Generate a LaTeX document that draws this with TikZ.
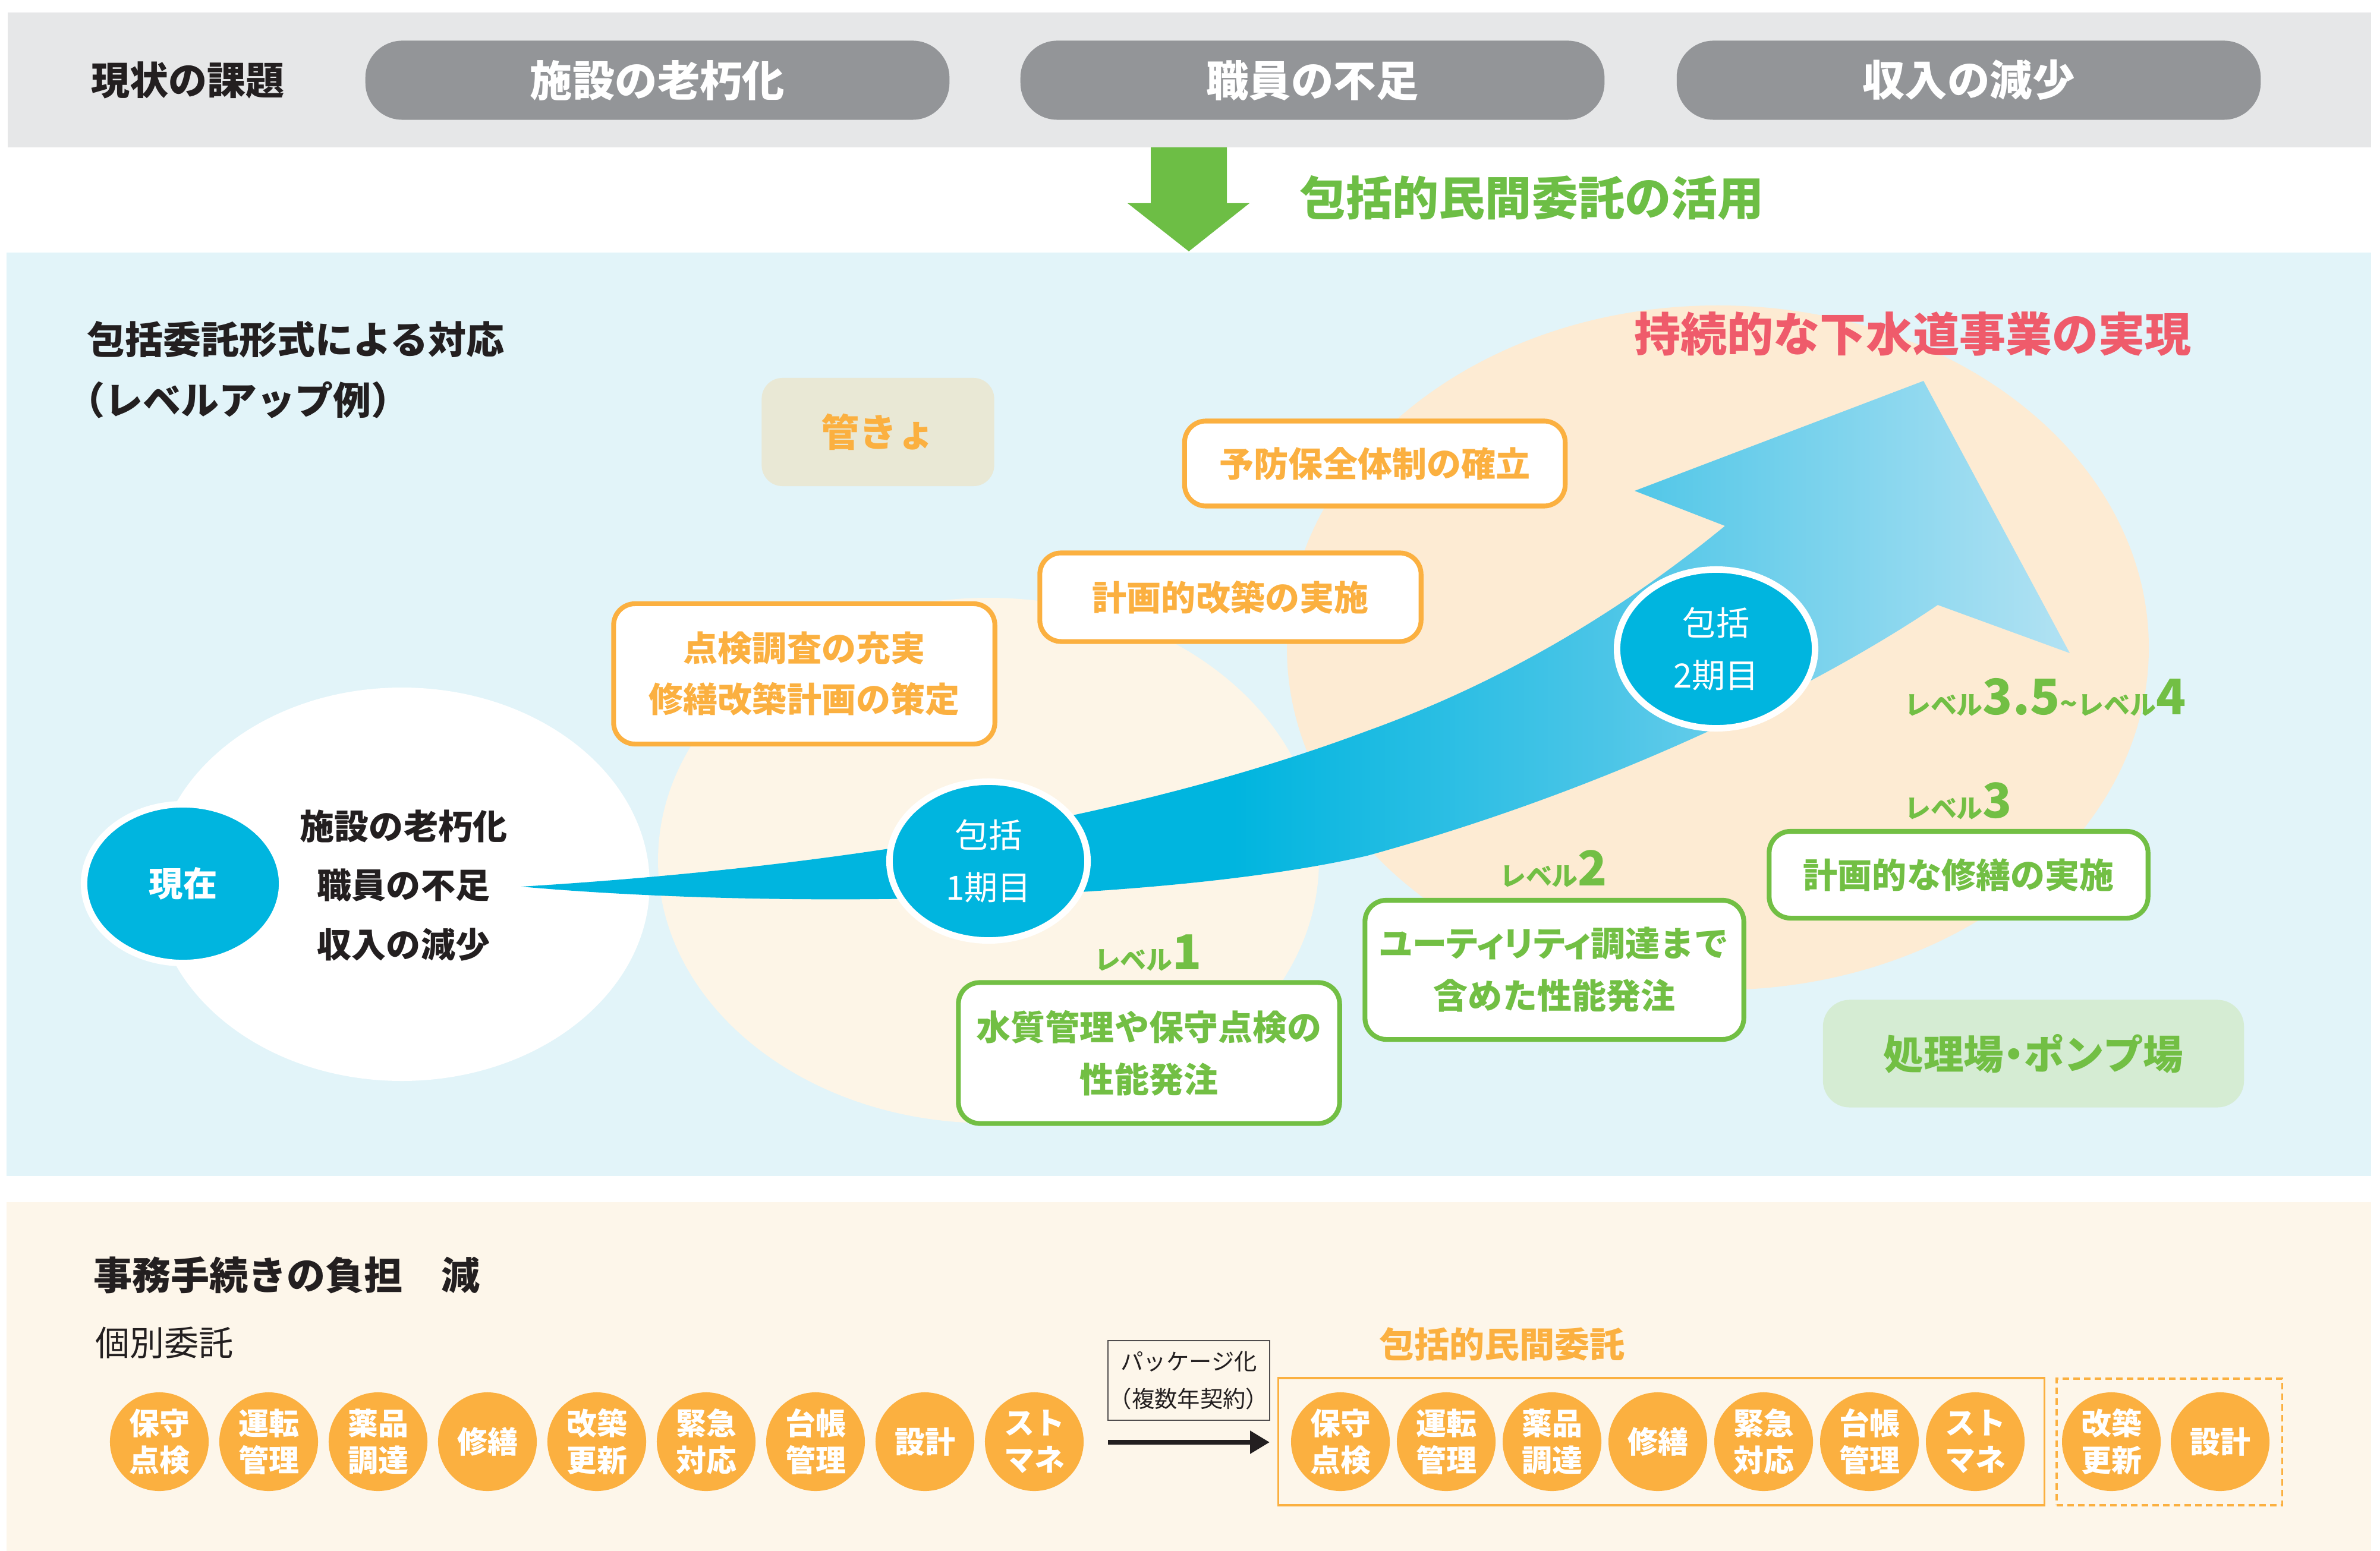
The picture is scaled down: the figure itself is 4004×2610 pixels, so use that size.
\documentclass[tikz,border=0pt]{standalone}
\usepackage{fontspec}
\setmainfont{Noto Sans CJK JP}
\newfontfamily\pfont[RawFeature=+palt]{Noto Sans CJK JP}
\usetikzlibrary{shapes.geometric,arrows.meta}
\definecolor{graybg}{HTML}{E6E7E8}
\definecolor{pillgray}{HTML}{939598}
\definecolor{garrow}{HTML}{6DBE45}
\definecolor{gtext}{HTML}{72BF44}
\definecolor{bluebg}{HTML}{E2F4F9}
\definecolor{creambg}{HTML}{FDF6EA}
\definecolor{peach}{HTML}{FDEBD3}
\definecolor{pale}{HTML}{FDF5E7}
\definecolor{cyanA}{HTML}{00B5DF}
\definecolor{cyanB}{HTML}{4BC5E7}
\definecolor{cyanC}{HTML}{B2E2F3}
\definecolor{orng}{HTML}{FBB040}
\definecolor{kanbg}{HTML}{E9E8D5}
\definecolor{shobg}{HTML}{D5ECD3}
\definecolor{redt}{HTML}{EF5B6B}
\definecolor{txtblack}{HTML}{231F20}
\pgfdeclarehorizontalshading{arrowshade}{100bp}{color(0bp)=(cyanA); color(48bp)=(cyanA); color(60bp)=(cyanB); color(75bp)=(cyanC); color(100bp)=(cyanC)}
\newcommand\fsz[2]{\fontsize{#1pt}{#2pt}\selectfont}
\begin{document}
\begin{tikzpicture}[x=0.01cm,y=-0.01cm,
  every node/.style={inner sep=0pt,outer sep=0pt},
  pill/.style={rectangle,rounded corners=0.62cm,fill=pillgray,minimum width=9.82cm,minimum height=1.33cm,text=white,font=\fsz{20.3}{24}\bfseries},
  obox/.style={rectangle,rounded corners=0.36cm,draw=orng,line width=2.3pt,fill=white,text=orng,align=center,font=\fsz{16.5}{24.5}\bfseries},
  gbox/.style={rectangle,rounded corners=0.36cm,draw=gtext,line width=2.3pt,fill=white,text=gtext,align=center,font=\fsz{16.5}{25}\bfseries},
  bcirc/.style={ellipse,fill=cyanA,draw=white,line width=3.1pt,minimum width=3.33cm,minimum height=2.67cm,text=white,align=center},
  ocirc/.style={circle,fill=orng,minimum size=1.66cm,text=white,align=center,font=\fsz{14.5}{17.6}\bfseries},
  lvl/.style={anchor=base west,text=gtext,font=\bfseries}]
\useasboundingbox (0,0) rectangle (4004,2610);
% backgrounds
\fill[white] (0,0) rectangle (4004,2610);
\fill[graybg] (13,21) rectangle (3989,248);
\fill[bluebg] (11,425) rectangle (3989,1979);
\fill[creambg] (11,2023) rectangle (3989,2610);
% top band
\node[text=txtblack,font=\fsz{18.5}{22}\bfseries] (kadai) at (316,135) {現状の課題};
\node[pill] (p1) at (1106,135) {施設の老朽化};
\node[pill] (p2) at (2208,135) {職員の不足};
\node[pill] (p3) at (3312,135) {収入の減少};
% green down arrow
\fill[garrow] (1936,248) -- (2064,248) -- (2064,342) -- (2102,342) -- (2000,423) -- (1897,342) -- (1936,342) -- cycle;
\node[text=garrow,font=\fsz{22.2}{26}\bfseries] (katsuyo) at (2577,333) {包括的民間委託の活用};
% middle section
\node[anchor=west,text=txtblack,font=\fsz{18.2}{22}\bfseries] (h1) at (146,571) {包括委託形式による対応};
\node[anchor=west,text=txtblack,font=\fsz{18.2}{22}\bfseries] (h2) at (112,673) {（レベルアップ例）};
\fill[peach] (2890,1090) ellipse [x radius=725, y radius=576];
\fill[pale] (1663,1448) ellipse [x radius=556, y radius=442];
\fill[white] (676,1488) ellipse [x radius=417, y radius=331];
\node[rectangle,rounded corners=0.35cm,fill=kanbg,minimum width=3.91cm,minimum height=1.82cm,text=orng,font=\fsz{18.2}{22}\bfseries] (kankyo) at (1477,727) {管きょ};
\node[rectangle,rounded corners=0.45cm,fill=shobg,minimum width=7.08cm,minimum height=1.81cm,text=gtext,font=\fsz{19.2}{22}\bfseries] (shori) at (3421,1773) {処理場{\pfont ・}ポンプ場};
% big arrow
\shade[shading=arrowshade]
  (877,1492) .. controls (1400,1460) and (1900,1380) .. (2300,1230)
  .. controls (2550,1140) and (2750,1010) .. (2902,885)
  -- (2750,826) -- (3236,641) -- (3482,1099) -- (3260,1018)
  .. controls (3050,1160) and (2700,1330) .. (2300,1440)
  .. controls (1950,1520) and (1300,1530) .. (877,1492) -- cycle;
\node[text=txtblack,align=center,font=\fsz{16.5}{28.2}\bfseries] (issues) at (679,1490) {施設の老朽化\\職員の不足\\収入の減少};
\node[bcirc,font=\fsz{16.3}{20}\bfseries] (now) at (308,1487) {現在};
\node[bcirc,font=\fsz{16}{24.8}] (k1) at (1663,1449) {包括\\1期目};
\node[bcirc,font=\fsz{16}{24.8}] (k2) at (2887,1092) {包括\\2期目};
% orange boxes
\node[obox,minimum width=6.41cm,minimum height=2.36cm] (ob1) at (1353,1134) {点検調査の充実\\修繕改築計画の策定};
\node[obox,minimum width=6.41cm,minimum height=1.49cm] (ob2) at (2070,1005) {計画的改築の実施};
\node[obox,minimum width=6.40cm,minimum height=1.43cm] (ob3) at (2313,780) {予防保全体制の確立};
% green boxes
\node[gbox,minimum width=6.41cm,minimum height=2.37cm] (gb1) at (1933,1772) {水質管理や保守点検の\\性能発注};
\node[gbox,minimum width=6.37cm,minimum height=2.34cm] (gb2) at (2615,1632) {{\pfont ユーティリティ}調達まで\\含めた性能発注};
\node[gbox,minimum width=6.37cm,minimum height=1.46cm] (gb3) at (3295,1472) {計画的な修繕の実施};
% level labels
\node[lvl] (l1) at (1841,1631) {{\fsz{12.5}{14}\bfseries レベル}{\fsz{23}{26}\bfseries 1}};
\node[lvl] (l2) at (2523,1490) {{\fsz{12.5}{14}\bfseries レベル}{\fsz{23}{26}\bfseries 2}};
\node[lvl] (l3) at (3204,1376) {{\fsz{12.5}{14}\bfseries レベル}{\fsz{23}{26}\bfseries 3}};
\node[lvl] (l4) at (3204,1202) {{\fsz{12.5}{14}\bfseries レベル}{\fsz{23.5}{26}\bfseries 3.5}{\fsz{14}{14}\bfseries \textasciitilde}{\fsz{12.5}{14}\bfseries レベル}{\fsz{23.5}{26}\bfseries 4}};
\node[text=redt,font=\fsz{22.2}{26}\bfseries] (goal) at (3218,562) {持続的な下水道事業の実現};
% bottom section
\node[anchor=west,text=txtblack,font=\fsz{18.5}{22}\bfseries] (jimu) at (157,2146) {事務手続きの負担　減};
\node[anchor=west,text=txtblack,font=\fsz{16.5}{20}] (kobetsu) at (160,2260) {個別委託};
\node[ocirc] (a1) at (268,2426) {保守\\点検};
\node[ocirc] (a2) at (452,2426) {運転\\管理};
\node[ocirc] (a3) at (636,2426) {薬品\\調達};
\node[ocirc] (a4) at (820,2426) {修繕};
\node[ocirc] (a5) at (1004,2426) {改築\\更新};
\node[ocirc] (a6) at (1188,2426) {緊急\\対応};
\node[ocirc] (a7) at (1372,2426) {台帳\\管理};
\node[ocirc] (a8) at (1556,2426) {設計};
\node[ocirc] (a9) at (1740,2426) {スト\\マネ};
\node[rectangle,draw=txtblack!80,line width=0.6pt,minimum width=2.72cm,minimum height=1.34cm,align=center,text=txtblack,font=\fsz{10.9}{17.9}] (pkg) at (2000,2323) {パッケージ化\\（複数年契約）};
\coordinate (arL) at (1864,2427);
\coordinate (arR) at (2136,2427);
\draw[line width=2.3pt,txtblack,-{Triangle[length=0.33cm,width=0.37cm]}] (arL) -- (arR);
\node[text=orng,font=\fsz{16.8}{20}\bfseries] (hokatsu) at (2527,2262) {包括的民間委託};
\node[rectangle,draw=orng,line width=0.95pt,minimum width=12.88cm,minimum height=2.14cm] (solidbox) at (2795,2426) {};
\node[rectangle,draw=orng,line width=0.95pt,dash pattern=on 3.1pt off 2pt,minimum width=3.79cm,minimum height=2.13cm] (dashbox) at (3649.5,2426.5) {};
\node[ocirc] (b1) at (2255,2426) {保守\\点検};
\node[ocirc] (b2) at (2433,2426) {運転\\管理};
\node[ocirc] (b3) at (2611,2426) {薬品\\調達};
\node[ocirc] (b4) at (2789,2426) {修繕};
\node[ocirc] (b5) at (2967,2426) {緊急\\対応};
\node[ocirc] (b6) at (3145,2426) {台帳\\管理};
\node[ocirc] (b7) at (3323,2426) {スト\\マネ};
\node[ocirc] (b8) at (3552,2426) {改築\\更新};
\node[ocirc] (b9) at (3735,2426) {設計};
\end{tikzpicture}
\end{document}
